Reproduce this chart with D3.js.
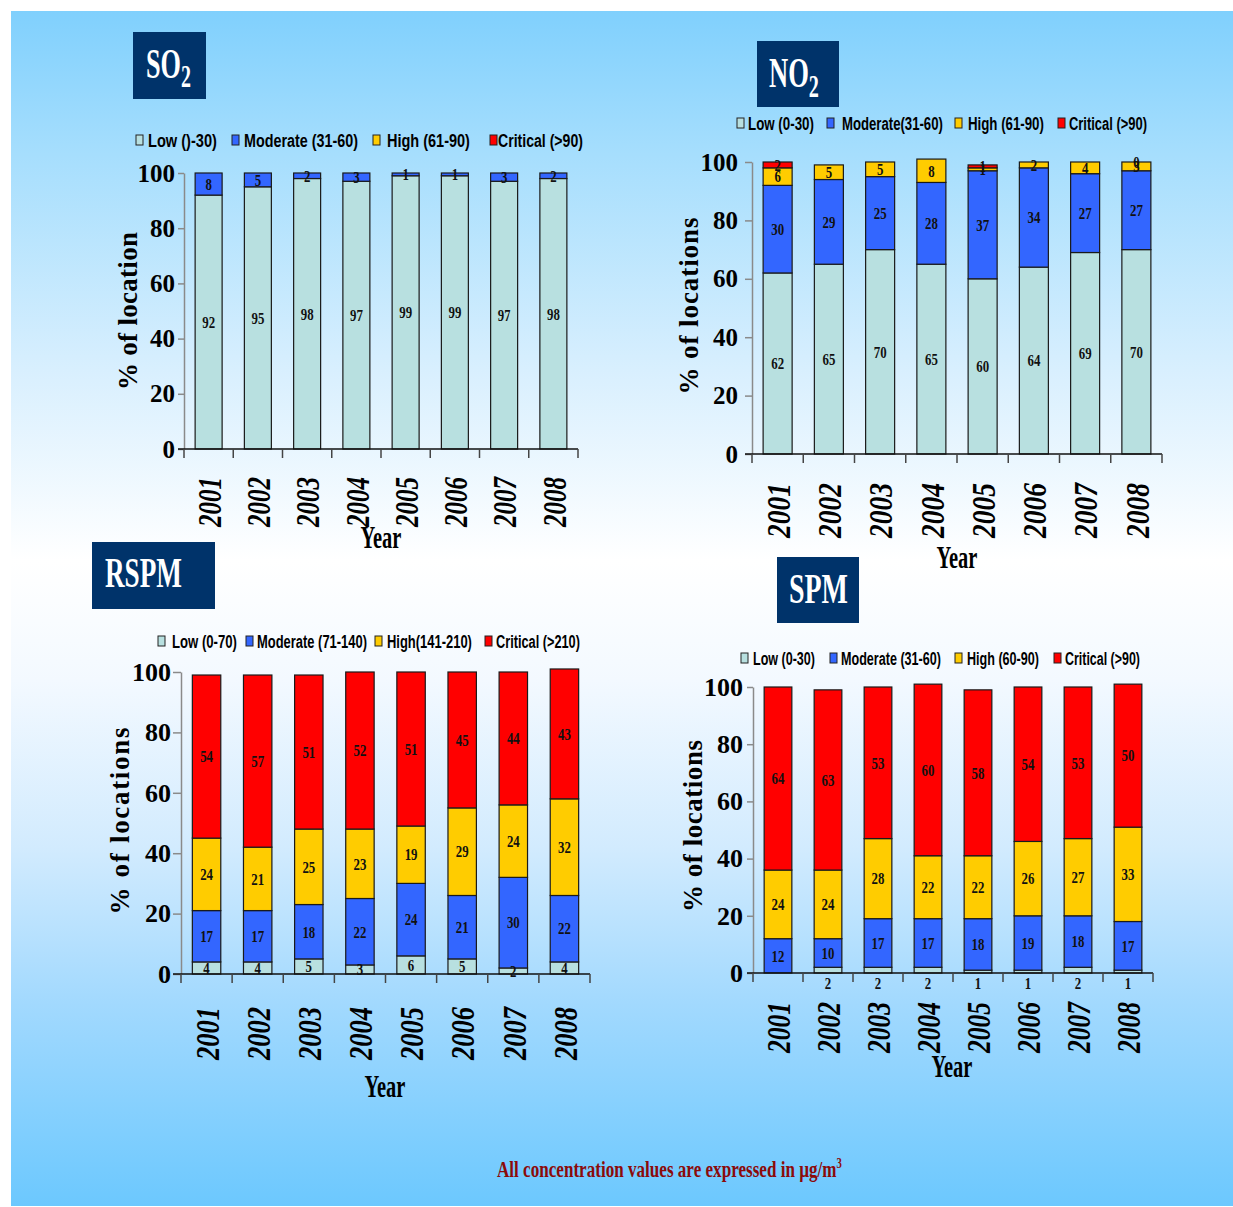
<!DOCTYPE html>
<html><head><meta charset="utf-8">
<script src="https://cdn.jsdelivr.net/npm/d3@7/dist/d3.min.js"></script>
<style>html,body{margin:0;padding:0;background:#fff;} svg{display:block}</style>
</head><body>
<svg id="c" width="1233" height="1207"></svg>
<script>
// ---------------- DATA ----------------
const years = ["2001","2002","2003","2004","2005","2006","2007","2008"];
const yTicks = [0, 20, 40, 60, 80, 100];
const categories = ["Low", "Moderate", "High", "Critical"];

const so2Low      = [92, 95, 98, 97, 99, 99, 97, 98];
const so2Moderate = [8, 5, 2, 3, 1, 1, 3, 2];
const so2Legend   = ["Low ()-30)", "Moderate (31-60)", "High (61-90)", "Critical (>90)"];

const no2Low      = [62, 65, 70, 65, 60, 64, 69, 70];
const no2Moderate = [30, 29, 25, 28, 37, 34, 27, 27];
const no2High     = [6, 5, 5, 8, 1, 2, 4, 3];
const no2Critical = [2, null, null, null, 1, null, null, 0];
const no2Legend   = ["Low (0-30)", "Moderate(31-60)", "High (61-90)", "Critical (>90)"];

const rspmLow      = [4, 4, 5, 3, 6, 5, 2, 4];
const rspmModerate = [17, 17, 18, 22, 24, 21, 30, 22];
const rspmHigh     = [24, 21, 25, 23, 19, 29, 24, 32];
const rspmCritical = [54, 57, 51, 52, 51, 45, 44, 43];
const rspmLegend   = ["Low (0-70)", "Moderate (71-140)", "High(141-210)", "Critical (>210)"];

const spmLow      = [null, 2, 2, 2, 1, 1, 2, 1];
const spmModerate = [12, 10, 17, 17, 18, 19, 18, 17];
const spmHigh     = [24, 24, 28, 22, 22, 26, 27, 33];
const spmCritical = [64, 63, 53, 60, 58, 54, 53, 50];
const spmLegend   = ["Low (0-30)", "Moderate (31-60)", "High (60-90)", "Critical (>90)"];

const footnote = "All concentration values are expressed in µg/m";

// ---------------- STYLE ----------------
const SERIF = "'Liberation Serif','Times New Roman',serif";
const SANS = "'Liberation Sans Narrow','Liberation Sans',Arial,sans-serif";
const colors = {Low: "#b8e0e0", Moderate: "#3366ff", High: "#ffcc00", Critical: "#ff0000"};

const svg = d3.select("#c");
const defs = svg.append("defs");
const grad = defs.append("linearGradient").attr("id", "bg").attr("x1", 0).attr("y1", 0).attr("x2", 0).attr("y2", 1);
[[0, "#80d0fd"], [0.12, "#a6defd"], [0.3, "#d8effe"], [0.46, "#ffffff"], [0.56, "#f3f9ff"], [0.7, "#d2ebfe"], [0.83, "#a2d9fe"], [1, "#6cc8fe"]]
  .forEach(([o, c]) => grad.append("stop").attr("offset", o).attr("stop-color", c));
svg.append("rect").attr("x", 11).attr("y", 11).attr("width", 1222).attr("height", 1195).attr("fill", "url(#bg)");

function fitText(parent, build, x, y, width, anchor) {
  const t = parent.append("text");
  build(t);
  const w = t.node().getBBox().width || 1;
  const sx = width / w;
  const left = anchor === "middle" ? x - width / 2 : x;
  t.attr("text-anchor", "start").attr("transform", `translate(${left},${y}) scale(${sx},1)`);
  return t;
}

function titleBox(box, main, sub, tx, ty, tw, subDy) {
  svg.append("rect").attr("x", box[0]).attr("y", box[1]).attr("width", box[2]).attr("height", box[3]).attr("fill", "#00336a");
  fitText(svg, t => {
    t.attr("font-family", SERIF).attr("font-weight", "bold").attr("font-size", 42).attr("fill", "#fff");
    t.append("tspan").text(main);
    if (sub) t.append("tspan").attr("font-size", 32).attr("dy", subDy).text(sub);
  }, tx, ty, tw, "start");
}

function drawChart(cfg) {
  const g = svg.append("g");
  const series = cfg.series;
  const rows = years.map((yr, i) => {
    const r = {year: yr};
    series.forEach(s => { r[s.key] = s.values[i]; });
    return r;
  });
  const keys = series.map(s => s.key);
  const stack = d3.stack().keys(keys).value((d, k) => d[k] == null ? 0 : d[k]);
  const stacked = stack(rows);

  const x = d3.scaleBand().domain(years).range(cfg.xRange).paddingInner(cfg.pad).paddingOuter(cfg.pad / 2);
  const y = d3.scaleLinear().domain([0, 100]).range(cfg.yRange);

  // bars
  stacked.forEach(layer => {
    g.append("g").selectAll("rect").data(layer).join("rect")
      .attr("x", d => x(d.data.year))
      .attr("width", x.bandwidth())
      .attr("y", d => y(d[1]))
      .attr("height", d => Math.max(0, y(d[0]) - y(d[1])))
      .attr("fill", colors[layer.key])
      .attr("stroke", "#1a1a1a").attr("stroke-width", 1.2);
  });

  // value labels
  stacked.forEach(layer => {
    const lab = g.append("g");
    layer.forEach((d, i) => {
      const v = d.data[layer.key];
      if (v == null) return;
      const cx = x(d.data.year) + x.bandwidth() / 2;
      let cy = (y(d[0]) + y(d[1])) / 2;
      if (cfg.belowKey === layer.key) cy = cfg.yRange[0] + cfg.belowOffset;
      lab.append("text")
        .attr("transform", `translate(${cx},${cy}) scale(0.78,1)`)
        .attr("text-anchor", "middle").attr("dy", "0.35em")
        .attr("font-family", SERIF).attr("font-weight", "bold").attr("font-size", 16.5)
        .attr("fill", "#111").text(v);
    });
  });

  // y axis
  const yAx = g.append("g").attr("transform", `translate(${cfg.xRange[0]},0)`)
    .call(d3.axisLeft(y).tickValues(yTicks).tickSize(cfg.tickSize).tickSizeOuter(0).tickPadding(cfg.tickPad).tickFormat(d3.format("d")));
  yAx.select(".domain").attr("stroke", "#8a8a8a").attr("stroke-width", 1.5);
  yAx.selectAll(".tick line").attr("stroke", "#8a8a8a").attr("stroke-width", 1.5);
  yAx.selectAll(".tick text").attr("font-family", SERIF).attr("font-weight", "bold").attr("font-size", cfg.tickFont).attr("fill", "#000");

  // x axis line + boundary ticks
  const y0 = cfg.yRange[0];
  g.append("line").attr("x1", cfg.xRange[0] - cfg.tickSize).attr("x2", cfg.xRange[1]).attr("y1", y0).attr("y2", y0)
    .attr("stroke", "#111").attr("stroke-width", 1.5);
  const bounds = years.map(d => x(d) - x.paddingOuter() * x.step()).concat([cfg.xRange[1]]);
  g.append("g").selectAll("line").data(bounds).join("line")
    .attr("x1", d => d).attr("x2", d => d).attr("y1", y0).attr("y2", y0 + 9)
    .attr("stroke", "#444").attr("stroke-width", 1.5);

  // rotated year labels (condensed along the text direction)
  const xf = 34;
  const sx = cfg.xLabLen / (xf * 2);
  g.append("g").selectAll("text").data(years).join("text")
    .attr("transform", d => `translate(${x(d) + x.bandwidth() / 2 + xf * 0.36},${cfg.xLabTop}) rotate(-90) scale(${sx},1)`)
    .attr("text-anchor", "end")
    .attr("font-family", SERIF).attr("font-weight", "bold").attr("font-style", "italic")
    .attr("font-size", xf).attr("fill", "#000")
    .text(d => d);

  // y title
  g.append("text")
    .attr("transform", `translate(${cfg.yTitle[0]},${cfg.yTitle[1]}) rotate(-90)`)
    .attr("text-anchor", "middle")
    .attr("font-family", SERIF).attr("font-weight", "bold").attr("font-size", 27).attr("fill", "#000")
    .attr("textLength", cfg.yTitle[2]).attr("lengthAdjust", "spacing")
    .text(cfg.yTitleText);

  // x title
  fitText(g, t => t.attr("font-family", SERIF).attr("font-weight", "bold").attr("font-size", 31).attr("fill", "#000").text("Year"),
    cfg.xTitle[0], cfg.xTitle[1], 41, "middle");

  // legend
  const lg = g.append("g");
  cfg.legend.forEach((it, i) => {
    lg.append("rect").attr("x", it[0]).attr("y", cfg.legendY - 5).attr("width", 7).attr("height", 10)
      .attr("fill", colors[categories[i]]).attr("stroke", "#222").attr("stroke-width", 1);
    fitText(lg, t => t.attr("font-family", SANS).attr("font-weight", "bold").attr("font-size", 19).attr("fill", "#000").text(cfg.legendLabels[i]),
      it[1], cfg.legendY + 6.5, it[2], "start");
  });
}

// ---------------- CHARTS ----------------
titleBox([133, 32, 73, 67], "SO", "2", 146, 78, 45, 9);
titleBox([757, 41, 82, 66], "NO", "2", 769, 87, 50, 10);
titleBox([92, 542, 123, 67], "RSPM", null, 105, 587, 77, 0);
titleBox([777, 557, 82, 66], "SPM", null, 789, 603, 59, 0);

drawChart({
  series: [{key: "Low", values: so2Low}, {key: "Moderate", values: so2Moderate}],
  xRange: [184, 578], yRange: [449, 173], pad: 0.452,
  tickSize: 6, tickPad: 3, tickFont: 25,
  xLabTop: 477, xLabLen: 50,
  yTitle: [137, 311, 158], yTitleText: "% of location",
  xTitle: [381, 548],
  legendY: 140, legendLabels: so2Legend,
  legend: [[136, 148, 69], [232, 244, 114], [373, 387, 83], [490, 498, 85]]
});

drawChart({
  series: [{key: "Low", values: no2Low}, {key: "Moderate", values: no2Moderate}, {key: "High", values: no2High}, {key: "Critical", values: no2Critical}],
  xRange: [752, 1162], yRange: [454, 162], pad: 0.434,
  tickSize: 7, tickPad: 7, tickFont: 25,
  xLabTop: 483, xLabLen: 55,
  yTitle: [698, 306, 177], yTitleText: "% of locations",
  xTitle: [957, 568],
  legendY: 123, legendLabels: no2Legend,
  legend: [[737, 748, 66], [827, 842, 101], [955, 968, 76], [1058, 1069, 78]]
});

drawChart({
  series: [{key: "Low", values: rspmLow}, {key: "Moderate", values: rspmModerate}, {key: "High", values: rspmHigh}, {key: "Critical", values: rspmCritical}],
  xRange: [181, 590], yRange: [974, 672], pad: 0.444,
  tickSize: 8, tickPad: 2, tickFont: 26,
  xLabTop: 1007, xLabLen: 53,
  yTitle: [129, 821, 187], yTitleText: "% of locations",
  xTitle: [385, 1097],
  legendY: 641, legendLabels: rspmLegend,
  legend: [[158, 172, 65], [246, 257, 110], [375, 387, 85], [485, 496, 84]]
});

drawChart({
  series: [{key: "Low", values: spmLow}, {key: "Moderate", values: spmModerate}, {key: "High", values: spmHigh}, {key: "Critical", values: spmCritical}],
  xRange: [753, 1153], yRange: [973, 687], pad: 0.446,
  tickSize: 6, tickPad: 4, tickFont: 26,
  xLabTop: 1002, xLabLen: 51,
  yTitle: [702, 826, 172], yTitleText: "% of locations",
  xTitle: [952, 1077],
  legendY: 658, legendLabels: spmLegend,
  legend: [[741, 753, 62], [830, 841, 100], [955, 967, 72], [1054, 1065, 75]],
  belowKey: "Low", belowOffset: 10
});

// footnote
fitText(svg, t => {
  t.attr("font-family", SERIF).attr("font-weight", "bold").attr("font-size", 24).attr("fill", "#8b0a0a");
  t.append("tspan").text(footnote);
  t.append("tspan").attr("font-size", 15).attr("dy", -9).text("3");
}, 497, 1177, 345, "start");
</script>
</body></html>
